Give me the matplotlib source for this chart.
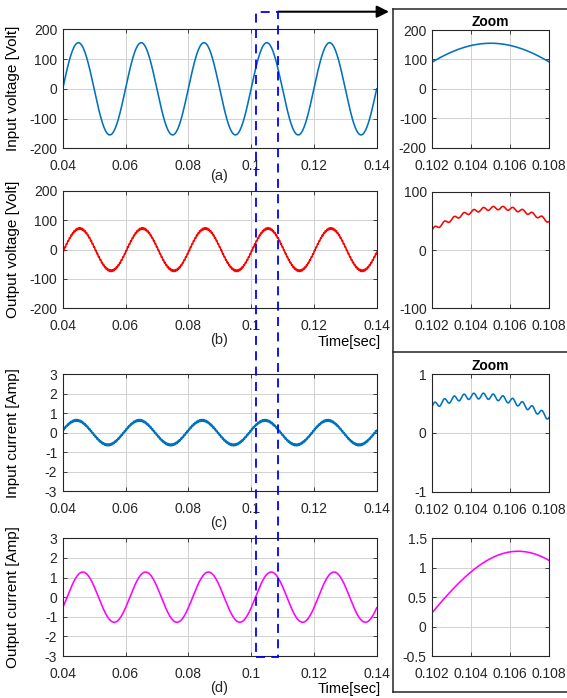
import numpy as np
import matplotlib

matplotlib.use("Agg")
import matplotlib.pyplot as plt
from matplotlib.lines import Line2D
from matplotlib.patches import Rectangle, FancyArrowPatch

plt.rcParams["font.family"] = ["Liberation Sans", "DejaVu Sans"]
plt.rcParams["font.size"] = 10
plt.rcParams["axes.unicode_minus"] = False

# waveform parameters (50 Hz mains, converter switching ripple)
F_LINE = 50.0
F_RIPPLE = 2000.0
T_START, T_END = 0.04, 0.14
ZOOM_T0, ZOOM_T1 = 0.102, 0.108
BOX_T0, BOX_T1 = 0.1016, 0.1086

VIN_AMP, VIN_DELAY, VIN_RIPPLE = 155.0, 0.0, 0.0
VOUT_AMP, VOUT_DELAY, VOUT_RIPPLE = 72.0, 0.00039, 3.0
IIN_AMP, IIN_DELAY, IIN_RIPPLE = 0.63, -0.0006, 0.05
IOUT_AMP, IOUT_DELAY, IOUT_RIPPLE = 1.28, 0.0014, 0.0

MAIN_XTICKS = [0.04, 0.06, 0.08, 0.1, 0.12, 0.14]
MAIN_XLABELS = ["0.04", "0.06", "0.08", "0.1", "0.12", "0.14"]
ZOOM_XTICKS = [0.102, 0.104, 0.106, 0.108]
ZOOM_XLABELS = ["0.102", "0.104", "0.106", "0.108"]

VOLT_TICKS = [-200, -100, 0, 100, 200]
AMP_TICKS = [-3, -2, -1, 0, 1, 2, 3]

ylabels = ["Input voltage [Volt]", "Output voltage [Volt]",
           "Input current [Amp]", "Output current [Amp]"]
panel_tags = ["(a)", "(b)", "(c)", "(d)"]
colors = ["#0072BD", "#FF0000", "#0072BD", "#FF00FF"]
main_ylims = [(-200, 200), (-200, 200), (-3, 3), (-3, 3)]
main_yticks = [VOLT_TICKS, VOLT_TICKS, AMP_TICKS, AMP_TICKS]
zoom_ylims = [(-200, 200), (-100, 100), (-1, 1), (-0.5, 1.5)]
zoom_yticks = [[-200, -100, 0, 100, 200], [-100, 0, 100], [-1, 0, 1],
               [-0.5, 0, 0.5, 1, 1.5]]
zoom_ylabels = [["-200", "-100", "0", "100", "200"], ["-100", "0", "100"],
                ["-1", "0", "1"], ["-0.5", "0", "0.5", "1", "1.5"]]

W, H = 567, 698
# panel rows, pixel top/bottom
rows_px = [(29.3, 148.3), (191.0, 308.3), (374.3, 491.0), (538.3, 656.0)]
zoom_rows_px = [(30.0, 147.7), (191.7, 308.3), (374.3, 491.7), (538.3, 656.0)]
MAIN_L, MAIN_R = 62.7, 376.7
ZOOM_L, ZOOM_R = 432.3, 549.3


def wave(t, amp, delay, ripple):
    base = amp * np.sin(2 * np.pi * F_LINE * (t - delay))
    return base + ripple * np.sin(2 * np.pi * F_RIPPLE * t)


t = np.arange(T_START, T_END + 1e-6, 1e-5)
params = [(VIN_AMP, VIN_DELAY, VIN_RIPPLE), (VOUT_AMP, VOUT_DELAY, VOUT_RIPPLE),
          (IIN_AMP, IIN_DELAY, IIN_RIPPLE), (IOUT_AMP, IOUT_DELAY, IOUT_RIPPLE)]
signals = [wave(t, *p) for p in params]


def fx(px):
    return px / W


def fy(py):
    return 1 - py / H


def style_axes(ax):
    for s in ax.spines.values():
        s.set_color("#262626")
        s.set_linewidth(0.8)
    ax.tick_params(direction="in", length=3, width=0.6, top=True, right=True,
                   colors="#262626", labelcolor="#262626", labelsize=10)
    ax.tick_params(axis="x", pad=8)
    ax.tick_params(axis="y", pad=4)
    ax.grid(True, color="0.82", linewidth=0.7)
    ax.set_axisbelow(True)


fig = plt.figure(figsize=(W / 100, H / 100), dpi=100)

main_axes = []
for i in range(4):
    top, bot = rows_px[i]
    ax = fig.add_axes([fx(MAIN_L), fy(bot), fx(MAIN_R - MAIN_L), (bot - top) / H])
    ax.plot(t, signals[i], color=colors[i], linewidth=1.15)
    ax.set_xlim(T_START, T_END)
    ax.set_ylim(*main_ylims[i])
    ax.set_xticks(MAIN_XTICKS)
    ax.set_xticklabels(MAIN_XLABELS)
    ax.set_yticks(main_yticks[i])
    ax.set_ylabel(ylabels[i], fontsize=11)
    ax.yaxis.set_label_coords((20 - MAIN_L) / (MAIN_R - MAIN_L), 0.5)
    style_axes(ax)
    main_axes.append(ax)

    ztop, zbot = zoom_rows_px[i]
    zax = fig.add_axes([fx(ZOOM_L), fy(zbot), fx(ZOOM_R - ZOOM_L), (zbot - ztop) / H])
    mask = (t >= ZOOM_T0 - 1e-9) & (t <= ZOOM_T1 + 1e-9)
    zax.plot(t[mask], signals[i][mask], color=colors[i], linewidth=1.15)
    zax.set_xlim(ZOOM_T0, ZOOM_T1)
    zax.set_ylim(*zoom_ylims[i])
    zax.set_xticks(ZOOM_XTICKS)
    zax.set_xticklabels(ZOOM_XLABELS)
    zax.set_yticks(zoom_yticks[i])
    zax.set_yticklabels(zoom_ylabels[i])
    style_axes(zax)
    if i in (0, 2):
        zax.set_title("Zoom", fontweight="bold", fontsize=10, pad=3)

# panel tags and time axis captions
tag_y = [176, 340, 523, 688]
for tag, y in zip(panel_tags, tag_y):
    fig.text(fx(219), fy(y), tag, ha="center", va="center", fontsize=10.5,
             color="#262626")
for y in (341.7, 688.5):
    fig.text(fx(381), fy(y), "Time[sec]", ha="right", va="center", fontsize=10.5)


def tx(tval):
    return fx(MAIN_L + (tval - T_START) / (T_END - T_START) * (MAIN_R - MAIN_L))


# dashed window over the main plots
box = Rectangle((tx(BOX_T0), fy(657.3)), tx(BOX_T1) - tx(BOX_T0), fy(11.7) - fy(657.3),
                transform=fig.transFigure, fill=False, edgecolor="#0000FF",
                linewidth=1.3, linestyle=(0, (5, 3.5)), zorder=10)
fig.add_artist(box)

arrow = FancyArrowPatch((tx(BOX_T1), fy(11.7)), (fx(389), fy(11.7)),
                        transform=fig.transFigure, arrowstyle="-|>",
                        mutation_scale=18, color="black", linewidth=1.5,
                        shrinkA=0, shrinkB=0)
fig.add_artist(arrow)

# frames around the zoom panels
frame_kw = dict(transform=fig.transFigure, color="#262626", linewidth=1.1)
fig.add_artist(Line2D([fx(393.3), fx(393.3)], [fy(9), fy(691.7)], **frame_kw))
for y in (9, 351.7, 691.7):
    fig.add_artist(Line2D([fx(393.3), fx(567)], [fy(y), fy(y)], **frame_kw))

fig.savefig("out.png", dpi=100)
